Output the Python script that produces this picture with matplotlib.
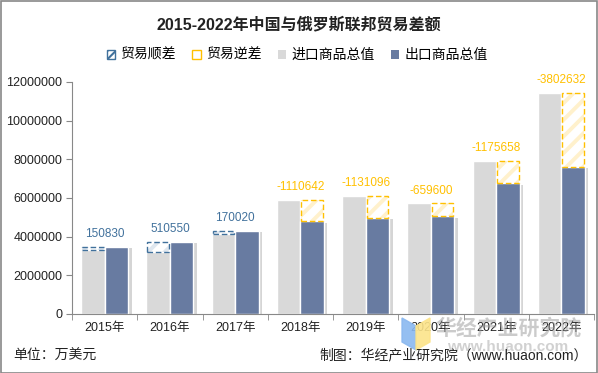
import numpy as np
import matplotlib
matplotlib.use("Agg")
import matplotlib.pyplot as plt
import matplotlib.patheffects as pe
from matplotlib.patches import Patch, Rectangle, Polygon

plt.rcParams['font.family'] = ['Liberation Sans', 'Noto Sans CJK SC', 'DejaVu Sans']
plt.rcParams['hatch.linewidth'] = 2.8

# 数据（万美元）
years = ["2015年", "2016年", "2017年", "2018年", "2019年", "2020年", "2021年", "2022年"]
imports = [3324870, 3222050, 4119930, 5907862, 6105406, 5718120, 7933158, 11416632]
exports = [3475700, 3732600, 4289950, 4797220, 4974310, 5058520, 6757500, 7614000]
balance = [150830, 510550, 170020, -1110642, -1131096, -659600, -1175658, -3802632]

c_imp = "#D9D9D9"
c_exp = "#687BA1"
c_pos = "#41719C"
c_neg = "#FFC000"
c_pos_h = "#DFE7EF"
c_neg_h = "#FFF1CC"

fig = plt.figure(figsize=(5.98, 3.73), dpi=100)
ax = fig.add_axes([72 / 598, 1 - 314 / 373, 522 / 598, 232 / 373])

x = np.arange(len(years))
w = 0.36
shadow = [pe.SimplePatchShadow(offset=(2.5, -1), shadow_rgbFace="#888888", alpha=0.35), pe.Normal()]

ax.bar(x - w / 2, imports, w, color=c_imp, edgecolor="white", linewidth=1, path_effects=shadow, zorder=2)
ax.bar(x + w / 2, exports, w, color=c_exp, edgecolor="white", linewidth=1, path_effects=shadow, zorder=2)

for i in range(len(years)):
    top = max(imports[i], exports[i])
    low = min(imports[i], exports[i])
    if balance[i] > 0:
        xpos, hc, ec = x[i] - w / 2, c_pos_h, c_pos
    else:
        xpos, hc, ec = x[i] + w / 2, c_neg_h, c_neg
    ax.bar(xpos, top - low, w * 0.92, bottom=low, color="white", edgecolor=hc,
           hatch="//", linewidth=0, zorder=3)
    ax.bar(xpos, top - low, w * 0.92, bottom=low, fill=False, edgecolor=ec,
           linestyle=(0, (4, 2)), linewidth=1, zorder=4)
    ax.annotate(str(balance[i]), (x[i], top), xytext=(0, 5), textcoords="offset points",
                ha="center", va="bottom", fontsize=8.5, color=ec)

ax.set_xlim(-0.5, len(years) - 0.5)
ax.set_ylim(0, 12000000)
ax.set_yticks(np.arange(0, 12000001, 2000000))
ax.set_yticklabels([str(v) for v in range(0, 12000001, 2000000)])
ax.set_xticks(x)
ax.set_xticklabels(years)
ax.set_xticks(np.arange(-0.5, len(years)), minor=True)
ax.tick_params(axis="x", which="major", length=0, labelsize=9, colors="#222222", pad=6)
ax.tick_params(axis="x", which="minor", length=4, color="#888888")
ax.tick_params(axis="y", length=4, color="#888888", labelsize=9, labelcolor="#222222", pad=3)
for s in ["top", "right"]:
    ax.spines[s].set_visible(False)
for s in ["left", "bottom"]:
    ax.spines[s].set_color("#888888")

fig.text(0.5, 1 - 24 / 373, "2015-2022年中国与俄罗斯联邦贸易差额", ha="center", va="center",
         fontsize=11.5, fontweight="bold", color="#222222")

plt.rcParams['hatch.linewidth'] = 1.5
handles = [
    Patch(facecolor="white", edgecolor=c_pos, hatch="////"),
    Patch(facecolor="white", edgecolor=c_neg, hatch=""),
    Patch(facecolor=c_imp, edgecolor="none"),
    Patch(facecolor=c_exp, edgecolor="none"),
]
labels = ["贸易顺差", "贸易逆差", "进口商品总值", "出口商品总值"]
fig.legend(handles, labels, loc="center", bbox_to_anchor=(0.497, 1 - 55 / 373), ncol=4,
           frameon=False, fontsize=10, handlelength=0.6, handleheight=0.6,
           handletextpad=0.35, columnspacing=1.2)

# 水印
fig.patches.append(Polygon([[402 / 598, 1 - 318 / 373], [416 / 598, 1 - 326 / 373],
                            [416 / 598, 1 - 350 / 373], [402 / 598, 1 - 342 / 373]],
                           closed=True, transform=fig.transFigure, color="#8AB8F0", alpha=0.9))
fig.patches.append(Polygon([[416 / 598, 1 - 326 / 373], [430 / 598, 1 - 318 / 373],
                            [430 / 598, 1 - 342 / 373], [416 / 598, 1 - 350 / 373]],
                           closed=True, transform=fig.transFigure, color="#FCE48A", alpha=0.9))
fig.text(508 / 598, 1 - 328 / 373, "华经产业研究院", ha="center", va="center", fontsize=15,
         fontweight="bold", color="#999999", alpha=0.5)
fig.text(508 / 598, 1 - 347 / 373, "www.huaon.com", ha="center", va="center", fontsize=11,
         fontweight="bold", color="#999999", alpha=0.45)

fig.text(13 / 598, 1 - 356 / 373, "单位：万美元", ha="left", va="center", fontsize=10, color="#222222")
fig.text(588 / 598, 1 - 355 / 373, "制图：华经产业研究院（www.huaon.com）", ha="right", va="center",
         fontsize=10, color="#222222")

fig.patches.append(Rectangle((0.5 / 598, 0.5 / 373), 596.5 / 598, 371.5 / 373, fill=False,
                             edgecolor="#888888", linewidth=1.2, transform=fig.transFigure))

fig.savefig("out.png", dpi=100)
